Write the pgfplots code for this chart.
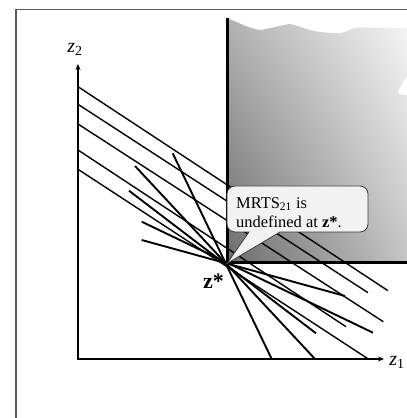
\documentclass[border=0pt]{standalone}
\usepackage{pgfplots}
\pgfplotsset{compat=1.18}
\usepackage{fontspec}
\setmainfont{Liberation Serif}
\usetikzlibrary{arrows.meta,shadings}
\definecolor{framegray}{HTML}{5A5A5A}
\definecolor{calloutfill}{HTML}{F2F2F2}
\definecolor{calloutedge}{HTML}{3C3C3C}
\definecolor{shLL}{HTML}{6C6C6C}
\definecolor{shUL}{HTML}{B2B2B2}
\definecolor{shLR}{HTML}{C6C6C6}
\definecolor{shUR}{HTML}{F8F8F8}
\begin{document}
\begin{tikzpicture}
\useasboundingbox (0,0) rectangle (407bp,418bp);
\begin{axis}[
  at={(0,0)}, anchor=south west,
  width=407bp, height=418bp, scale only axis,
  xmin=0, xmax=407, ymin=0, ymax=418,
  hide axis, clip=true,
  parline/.style={black, line width=1.4bp, mark=none},
  fanline/.style={black, line width=1.9bp, mark=none},
]
% outer frame
\fill[white] (0,0) rectangle (407,418);
\draw[framegray, line width=1.6bp] (16,-20) -- (16,408.5) -- (430,408.5);

% input requirement region (shaded, wavy top)
\shade[lower left=shLL, upper left=shUL, lower right=shLR, upper right=shUR]
  (227,155) -- (227,399.7)
  to[out=-18,in=172] (260,388)
  to[out=8,in=188] (290,394)
  to[out=-12,in=172] (318,386.3)
  to[out=-4,in=195] (345,386)
  to[out=25,in=182] (362,390.6)
  -- (412,389.7) -- (412,341.5) -- (407,341.3)
  to[out=225,in=60] (398,327)
  to[out=240,in=180] (407,323) -- (412,323)
  -- (412,155) -- cycle;
\draw[black, line width=3bp] (227,399.7) -- (227,155) -- (412,155);

% axes
\addplot[black, line width=2bp, -{Stealth[length=6bp,width=5bp]}] coordinates {(78,59) (78,354)};
\addplot[black, line width=2bp, -{Stealth[length=6bp,width=5bp]}] coordinates {(77,59) (384,59)};

% parallel isoquant segments
\addplot[parline] coordinates {(78,331.3) (388,127.3)};
\addplot[parline] coordinates {(78,313.7) (368,125.3)};
\addplot[parline] coordinates {(78,294.0) (383.3,96.3)};
\addplot[parline] coordinates {(78,268.0) (346,91.3)};
\addplot[parline] coordinates {(78,248.7) (368.3,59)};

% lines through the kink z*
\addplot[fanline] coordinates {(172.7,264.7) (271.7,59)};
\addplot[fanline] coordinates {(135,252) (315,59)};
\addplot[fanline] coordinates {(129,227.3) (316,84.7)};
\addplot[fanline] coordinates {(141.7,196.3) (373,85.3)};
\addplot[fanline] coordinates {(141.7,178) (345,122)};

% callout
\draw[calloutedge, fill=calloutfill, line width=0.8bp]
  (227,154.5) -- (280,186)
  -- (360,186) arc[start angle=-90, end angle=0, radius=8]
  -- (368,224) arc[start angle=0, end angle=90, radius=8]
  -- (235,232) arc[start angle=90, end angle=180, radius=8]
  -- (227,194) arc[start angle=180, end angle=270, radius=8]
  -- (249,186) -- cycle;
\node[anchor=base west, inner sep=0pt, font=\fontsize{16.5}{19}\selectfont]
  at (axis cs:236,209.7) {MRTS\textsubscript{21} is};
\node[anchor=base west, inner sep=0pt, font=\fontsize{16.5}{19}\selectfont]
  at (axis cs:236,190.5) {undefined at \textbf{z*}.};

% labels
\node[inner sep=0pt, font=\fontsize{20}{22}\selectfont] at (axis cs:75,369) {\textit{z}\textsubscript{2}};
\node[inner sep=0pt, font=\fontsize{20}{22}\selectfont] at (axis cs:397,56) {\textit{z}\textsubscript{1}};
\node[anchor=base west, inner sep=0pt, font=\fontsize{22}{25}\selectfont\bfseries]
  at (axis cs:203,129.7) {z*};
\end{axis}
\end{tikzpicture}
\end{document}
